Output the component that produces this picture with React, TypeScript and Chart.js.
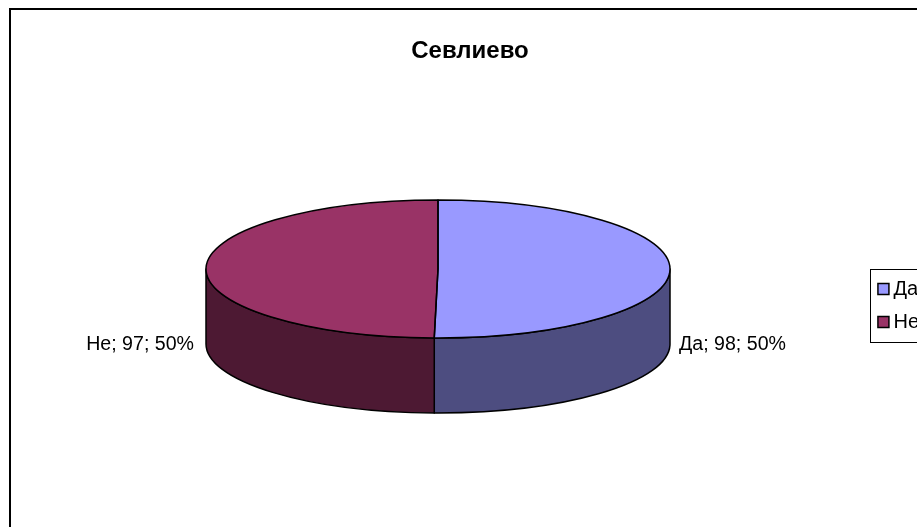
import React, { useEffect, useRef } from "react";
import { Chart, registerables } from "chart.js";

Chart.register(...registerables);

const categories = ["Да", "Не"];
const values = [98, 97];
const colors = ["#9999FF", "#993366"];
const sideColors = ["#4D4D80", "#4D1933"];
const title = "Севлиево";

const W = 924;
const H = 595;
const FONT = "'Liberation Sans', Arial, sans-serif";
const CX = 430;
const CY = 261;
const RX = 232;
const K = 69 / 232;
const DEPTH = 75;

const pie3d = {
  id: "pie3d",
  beforeDraw(chart: any) {
    const c = chart.ctx;
    c.save();
    c.fillStyle = "#fff";
    c.fillRect(0, 0, chart.width, chart.height);
    c.strokeStyle = "#000";
    c.lineWidth = 2;
    c.strokeRect(2, 1, chart.width + 10, chart.height + 10);
    c.restore();
  },
  beforeDatasetsDraw(chart: any) {
    const c = chart.ctx;
    const arcs = chart.getDatasetMeta(0).data;
    const ry = RX * K;
    c.save();
    c.lineJoin = "round";
    c.strokeStyle = "#000";
    c.lineWidth = 1.5;
    arcs.forEach((a: any, i: number) => {
      const s = Math.max(a.startAngle, 0);
      const e = Math.min(a.endAngle, Math.PI);
      if (e <= s) return;
      c.beginPath();
      c.ellipse(CX, CY, RX, ry, 0, s, e);
      c.ellipse(CX, CY + DEPTH, RX, ry, 0, e, s, true);
      c.closePath();
      c.fillStyle = sideColors[i];
      c.fill();
      c.stroke();
    });
    c.restore();
    const a0 = arcs[0];
    c.save();
    c.translate(CX, CY);
    c.scale(1, K);
    c.translate(-a0.x, -a0.y);
  },
  afterDatasetsDraw(chart: any) {
    const c = chart.ctx;
    c.restore();
    const arcs = chart.getDatasetMeta(0).data;
    const ry = RX * K;
    const total = values.reduce((p, v) => p + v, 0);
    c.save();
    c.lineJoin = "round";
    c.strokeStyle = "#000";
    c.lineWidth = 1.5;
    arcs.forEach((a: any) => {
      c.beginPath();
      c.moveTo(CX, CY);
      c.ellipse(CX, CY, RX, ry, 0, a.startAngle, a.endAngle);
      c.closePath();
      c.stroke();
    });
    c.fillStyle = "#000";
    c.font = `19.6px ${FONT}`;
    c.textBaseline = "middle";
    arcs.forEach((a: any, i: number) => {
      const mid = (a.startAngle + a.endAngle) / 2;
      const right = Math.cos(mid) >= 0;
      const text = `${categories[i]}; ${values[i]}; ${Math.round((values[i] / total) * 100)}%`;
      c.textAlign = right ? "left" : "right";
      c.fillText(text, CX + Math.cos(mid) * RX + (right ? 9 : -12), CY + DEPTH + 1);
    });
    c.restore();
    // legend frame
    const l = chart.legend;
    c.save();
    c.strokeStyle = "#000";
    c.lineWidth = 1;
    c.strokeRect(Math.round(l.left) + 0.5, Math.round(l.top + l.height / 2 - 36.5) + 0.5, l.width + 20, 73);
    c.restore();
  },
};

export default function App() {
  const ref = useRef<HTMLCanvasElement>(null);
  useEffect(() => {
    document.documentElement.style.overflow = "hidden";
    const chart = new Chart(ref.current!, {
      type: "pie",
      data: {
        labels: categories,
        datasets: [
          {
            data: values,
            backgroundColor: colors,
            borderWidth: 0,
            radius: RX,
            clip: false,
          } as any,
        ],
      },
      options: {
        animation: false,
        responsive: false,
        devicePixelRatio: 1,
        layout: { padding: { left: 3, right: 3 } },
        plugins: {
          tooltip: { enabled: false },
          title: {
            display: true,
            text: title,
            color: "#000",
            font: { family: FONT, size: 24, weight: "bold" },
            padding: { top: 29, bottom: 10 },
          },
          legend: {
            display: true,
            position: "right",
            labels: {
              color: "#000",
              font: { family: FONT, size: 20 },
              usePointStyle: true,
              pointStyle: "rect",
              boxWidth: 0.01,
              boxHeight: 11,
              padding: 13,
              generateLabels(chart: any) {
                const items = (Chart as any).overrides.pie.plugins.legend.labels.generateLabels(chart);
                return items.map((it: any) => ({ ...it, strokeStyle: "#000", lineWidth: 1.5, pointStyle: "rect" }));
              },
            },
          },
        },
      },
      plugins: [pie3d],
    } as any);
    return () => chart.destroy();
  }, []);
  return <canvas ref={ref} width={W} height={H} style={{ display: "block", position: "absolute", left: 8, top: 8 }} />;
}
